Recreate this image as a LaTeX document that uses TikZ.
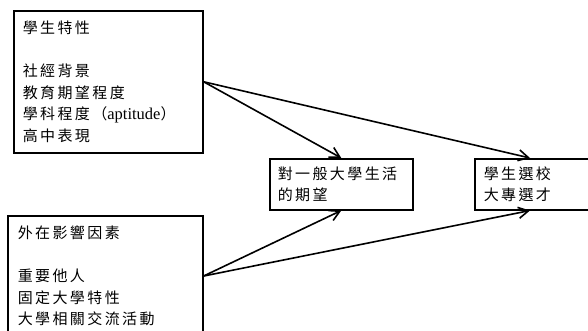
\documentclass[tikz,border=0pt]{standalone}
\usepackage{fontspec}
\setmainfont{Liberation Serif}
\newfontfamily\cjk[LetterSpace=16]{Noto Sans CJK TC}
\usetikzlibrary{arrows.meta}
\newcommand{\lat}[1]{{\rmfamily\fontsize{16.5}{21.6}\selectfont #1}}

\begin{document}
\begin{tikzpicture}[x = 1pt, y = -1pt,
    box/.style = {draw, line width = 1.6pt, anchor = north west, align = left,
        inner xsep = 9pt, inner ysep = 10pt, font = \cjk\fontsize{15}{21.6}\selectfont},
    link/.style = {-{Straight Barb[length = 10pt, width = 11pt]}, line width = 1.6pt}]
    \path[use as bounding box, clip] (0,0) rectangle (588,330);
    \node [box, text width = 171pt] (student) at (13,10)
        {學生特性\\\mbox{}\\社經背景\\教育期望程度\\學科程度（\lat{aptitude}）\\高中表現};
    \node [box, text width = 175pt, inner xsep = 10pt] (outer) at (7,215)
        {外在影響因素\\\mbox{}\\重要他人\\固定大學特性\\大學相關交流活動};
    \node [box, text width = 127pt, inner xsep = 8pt, inner ysep = 7.7pt] (expect) at (269,158)
        {對一般大學生活\\的期望};
    \node [box, text width = 108pt, inner ysep = 7.7pt] (choice) at (474,158)
        {學生選校\\大專選才};
    \draw [link] (student.east) -- (expect.north);
    \draw [link] (student.east) -- ([xshift = 56pt]choice.north west);
    \draw [link] (outer.east) -- (expect.south);
    \draw [link] (outer.east) -- ([xshift = 56pt]choice.south west);
\end{tikzpicture}
\end{document}
